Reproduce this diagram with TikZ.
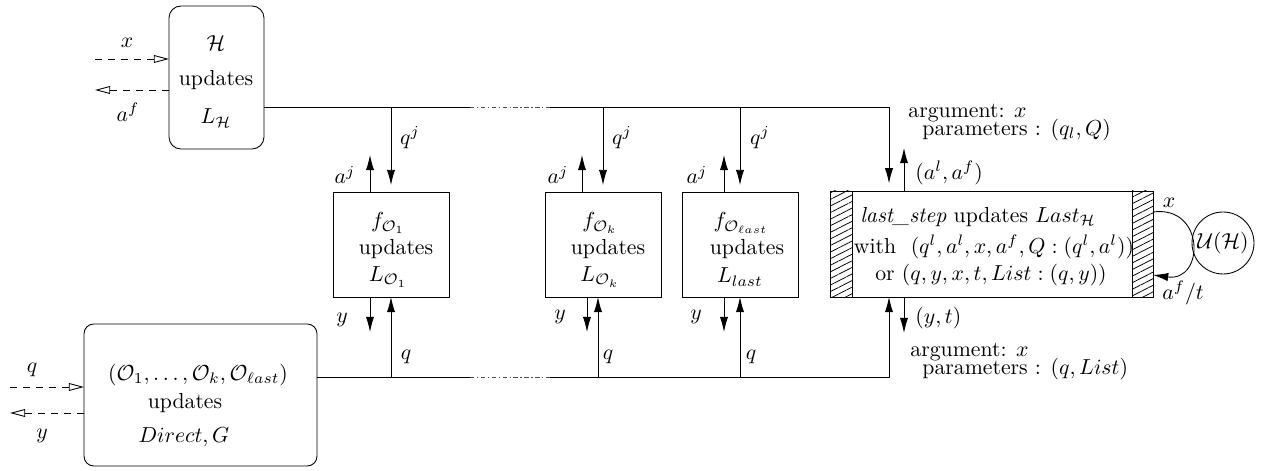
\documentclass[tikz,border=0pt]{standalone}
\usetikzlibrary{arrows.meta,patterns.meta,calc}
\newcommand\pxu{0.46pt}
\begin{document}
\begin{tikzpicture}[x=0.46pt,y=-0.46pt,
  boxn/.style={draw,line width=0.4pt,inner sep=0pt,outer sep=0pt},
  arr/.style={line width=0.4pt,-{Latex[length=7pt,width=3.8pt]}},
  darr/.style={line width=0.4pt,dashed,-{Triangle[open,length=7pt,width=3.6pt]}},
  plain/.style={line width=0.4pt},
  gapline/.style={line width=0.4pt,draw=black!70,dash pattern=on 2pt off 1.2pt on 0.6pt off 1.2pt},
  lbl/.style={inner sep=0pt},
  hatch/.style={boxn,pattern={Lines[angle=27,distance=2.7pt,line width=0.35pt]}}]
\useasboundingbox (0,0) rectangle (1282,471);

% boxes
\node[boxn,rounded corners=5.5pt,minimum width=95*\pxu,minimum height=143*\pxu] (H) at (216.5,77.5) {};
\node[boxn,rounded corners=4.5pt,minimum width=233*\pxu,minimum height=142*\pxu] (O) at (200.5,395) {};
\node[boxn,minimum width=116*\pxu,minimum height=105*\pxu] (f1) at (391,244.5) {};
\node[boxn,minimum width=116*\pxu,minimum height=105*\pxu] (fk) at (603,244.5) {};
\node[boxn,minimum width=116*\pxu,minimum height=105*\pxu] (fl) at (740,244.5) {};
\node[boxn,minimum width=280*\pxu,minimum height=106*\pxu] (L) at (992,244) {};
\node[hatch,minimum width=22*\pxu,minimum height=106*\pxu] (hl) at (841,244) {};
\node[hatch,minimum width=21*\pxu,minimum height=106*\pxu] (hr) at (1142.5,244) {};
\node[draw,line width=0.4pt,circle,minimum size=62*\pxu,inner sep=0pt] (U) at (1223,243) {$\mathcal{U}(\mathcal{H})$};

% box texts
\node[lbl] (Ht1) at (216,43) {$\mathcal{H}$};
\node[lbl] (Ht2) at (216,80) {updates};
\node[lbl] (Ht3) at (216,118) {$L_{\mathcal{H}}$};

\node[lbl] (Ot1) at (198,375) {$(\mathcal{O}_1,\ldots,\mathcal{O}_k,\mathcal{O}_{\ell ast})$};
\node[lbl] (Ot2) at (185,403) {updates};
\node[lbl] (Ot3) at (184,437) {$Direct, G$};

\node[lbl] (f1t1) at (388,223) {$f_{\mathcal{O}_1}$};
\node[lbl] (f1t2) at (396,249) {updates};
\node[lbl] (f1t3) at (388,277) {$L_{\mathcal{O}_1}$};

\node[lbl] (fkt1) at (600,223) {$f_{\mathcal{O}_k}$};
\node[lbl] (fkt2) at (608,249) {updates};
\node[lbl] (fkt3) at (600,277) {$L_{\mathcal{O}_k}$};

\node[lbl] (flt1) at (741,223) {$f_{\mathcal{O}_{\ell ast}}$};
\node[lbl] (flt2) at (747,249) {updates};
\node[lbl] (flt3) at (740,277) {$L_{last}$};

\node[lbl] (Lt1) at (978,217) {\textit{last\_step} updates $Last_{\mathcal{H}}$};
\node[lbl] (Lt2) at (994,247) {with\ \ $(q^l,a^l,x,a^f,Q:(q^l,a^l))$};
\node[lbl] (Lt3) at (991,275) {or $(q,y,x,t,List:(q,y))$};

% top bus
\coordinate (t0) at (H.east |- 0,107);
\coordinate (ga) at (470,107);
\coordinate (gb) at (550,107);
\coordinate (tc) at (889,107);
\draw[plain] (t0) -- (ga);
\draw[gapline] (ga) -- (gb);
\draw[arr,shorten >=3.5pt] (gb) -- (tc) -- (tc |- L.north);

\coordinate (j1) at (f1.north |- t0);
\coordinate (jk) at (fk.north |- t0);
\coordinate (jl) at (fl.north |- t0);
\draw[arr,shorten >=3.2pt] (j1) -- (f1.north);
\draw[arr,shorten >=3.2pt] (jk) -- (fk.north);
\draw[arr,shorten >=3.2pt] (jl) -- (fl.north);

\draw[arr] ([xshift=-21*\pxu]f1.north) -- ++(0,-37);
\draw[arr] ([xshift=-21*\pxu]fk.north) -- ++(0,-37);
\draw[arr] ([xshift=-16*\pxu]fl.north) -- ++(0,-37);
\draw[arr] (L.north -| 904,0) -- ++(0,-43);

% bottom bus
\coordinate (b0) at (O.east |- 0,377);
\coordinate (gc) at (470,377);
\coordinate (gd) at (550,377);
\coordinate (bc) at (889,377);
\draw[plain] (b0) -- (gc);
\draw[gapline] (gc) -- (gd);
\draw[arr] (gd) -- (bc) -- (bc |- L.south);

\coordinate (k1) at ([xshift=-5*\pxu]fk.south);
\draw[arr] (f1.south |- b0) -- (f1.south);
\draw[arr] (k1 |- b0) -- (k1);
\draw[arr] (fl.south |- b0) -- (fl.south);

\draw[arr] ([xshift=-21*\pxu]f1.south) -- ++(0,35);
\draw[arr] ([xshift=-16*\pxu]fk.south) -- ++(0,35);
\draw[arr] ([xshift=-16*\pxu]fl.south) -- ++(0,35);
\draw[arr] (L.south -| 904,0) -- ++(0,36);

% dashed external arrows
\coordinate (hx) at (95,59);
\coordinate (ha) at (95,90);
\coordinate (oq) at (10,387);
\coordinate (oy) at (10,413);
\draw[darr] (hx) -- (H.west |- hx);
\draw[darr] (H.west |- ha) -- (ha);
\draw[darr] (oq) -- (O.west |- oq);
\draw[darr] (O.west |- oy) -- (oy);

% loop to U(H)
\draw[arr] (hr.east |- 0,212) .. controls (1205,205) and (1205,282) .. (hr.east |- 0,275);

% labels
\node[lbl] (lx) at (127,43) {$x$};
\node[lbl] (laf) at (128,112) {$a^f$};
\node[lbl] (lq) at (32,370) {$q$};
\node[lbl] (ly) at (42,436) {$y$};

\node[lbl] (lq1) at (410,138) {$q^j$};
\node[lbl] (lqk) at (622,138) {$q^j$};
\node[lbl] (lql) at (760,138) {$q^j$};
\node[lbl] (la1) at (345,175) {$a^j$};
\node[lbl] (lak) at (558,175) {$a^j$};
\node[lbl] (lal) at (697,175) {$a^j$};

\node[lbl] (ly1) at (342,320) {$y$};
\node[lbl] (lyk) at (560,317) {$y$};
\node[lbl] (lyl) at (696,317) {$y$};
\node[lbl] (lb1) at (406,357) {$q$};
\node[lbl] (lbk) at (608,357) {$q$};
\node[lbl] (lbl) at (751,357) {$q$};

\node[lbl,anchor=west] (laa) at (915,173) {$(a^l,a^f)$};
\node[lbl,anchor=west] (arg1) at (908,113) {argument: $x$};
\node[lbl,anchor=west] (par1) at (922,130) {parameters : $(q_l,Q)$};
\node[lbl,anchor=west] (lyt) at (915,318) {$(y,t)$};
\node[lbl,anchor=west] (arg2) at (910,352) {argument: $x$};
\node[lbl,anchor=west] (par2) at (922,369) {parameters : $(q,List)$};

\node[lbl] (lux) at (1169,203) {$x$};
\node[lbl] (luat) at (1183,293) {$a^f/t$};
\end{tikzpicture}
\end{document}
